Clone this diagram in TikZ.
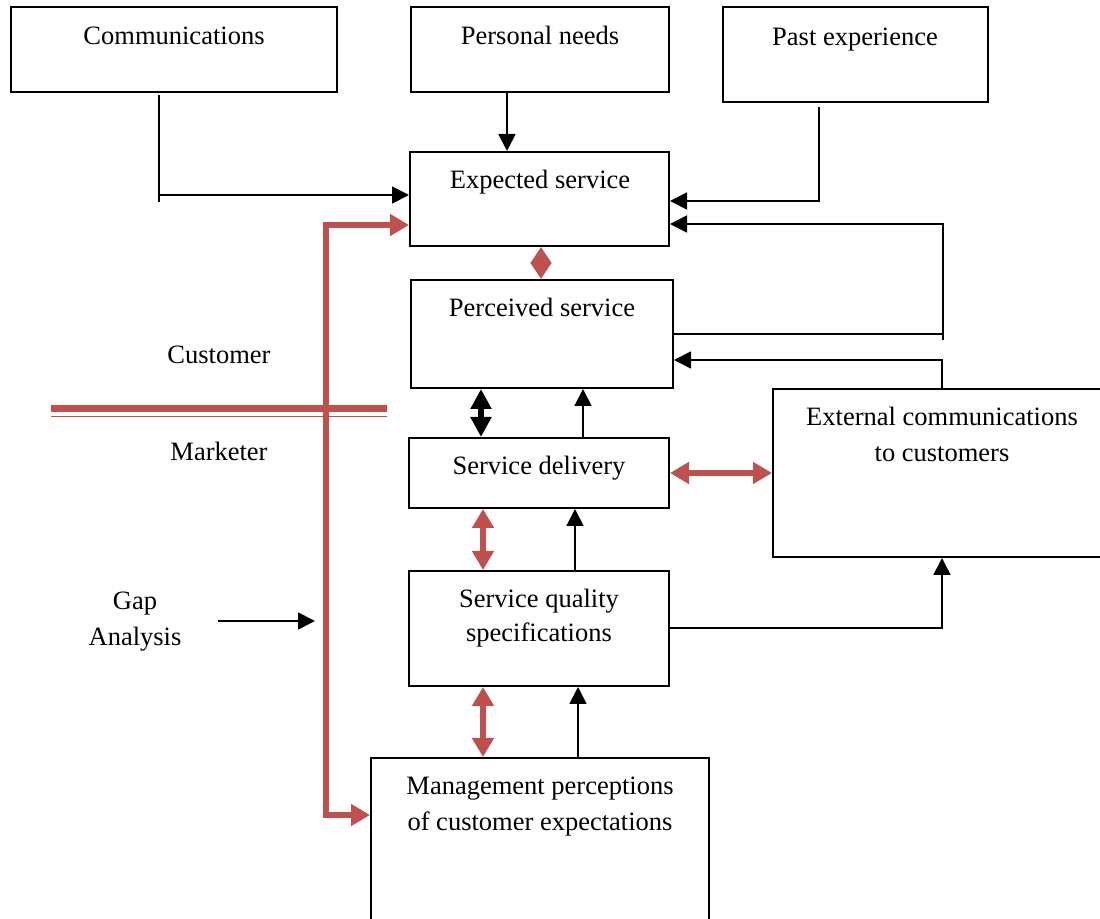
\documentclass[tikz,border=0pt]{standalone}
\usepackage{fontspec}
\setmainfont{Liberation Serif}
\usetikzlibrary{arrows.meta,fit}
\definecolor{gapred}{RGB}{192,80,77}
\tikzset{
  box/.style={draw, line width=1pt, inner sep=0pt},
  txt/.style={anchor=base, inner sep=0pt, font=\fontsize{13.25}{16}\selectfont},
  link/.style={line width=0.9pt},
  arr/.style={link, -{Triangle[length=8.5pt,width=8.5pt]}},
  gaparrow/.style={draw=gapred, line width=2.8pt,
    {Triangle[length=9.5pt,width=10.5pt]}-{Triangle[length=9.5pt,width=10.5pt]}},
  shortgap/.style={draw=gapred, line width=2.8pt,
    {Triangle[length=8pt,width=10pt]}-{Triangle[length=8pt,width=10pt]}},
  bigtwoway/.style={line width=3pt,
    {Triangle[length=10pt,width=10pt]}-{Triangle[length=10pt,width=10pt]}},
}
\begin{document}
\begin{tikzpicture}[x=0.5pt,y=-0.5pt]
\useasboundingbox (0,0) rectangle (1100,919);
\clip (0,0) rectangle (1100,919);

% boxes
\node[box, fit={(11,7) (337,92)}]    (comm)  {};
\node[box, fit={(411,7) (669,92)}]   (pn)    {};
\node[box, fit={(723,7) (988,102)}]  (past)  {};
\node[box, fit={(410,152) (669,246)}] (exp)  {};
\node[box, fit={(411,280) (673,388)}] (perc) {};
\node[box, fit={(409,438) (669,508)}] (deliv) {};
\node[box, fit={(409,571) (669,686)}] (sqs)  {};
\node[box, fit={(773,389) (1112,557)}] (ext) {};
\node[box, fit={(371,758) (709,935)}] (mgmt) {};

% box texts
\node[txt] (comm-t)  at (174,45)  {Communications};
\node[txt] (pn-t)    at (540,45)  {Personal needs};
\node[txt] (past-t)  at (855,46)  {Past experience};
\node[txt] (exp-t)   at (540,189) {Expected service};
\node[txt] (perc-t)  at (542,317) {Perceived service};
\node[txt] (deliv-t) at (539,475) {Service delivery};
\node[txt] (sqs-t1)  at (539,608) {Service quality};
\node[txt] (sqs-t2)  at (539,642) {specifications};
\node[txt] (ext-t1)  at (942,426) {External communications};
\node[txt] (ext-t2)  at (942,462) {to customers};
\node[txt] (mgmt-t1) at (540,795) {Management perceptions};
\node[txt] (mgmt-t2) at (540,831) {of customer expectations};

% side labels
\node[txt] (cust)  at (219,364) {Customer};
\node[txt] (mark)  at (219,461) {Marketer};
\node[txt] (gap1)  at (135,610) {Gap};
\node[txt] (gap2)  at (135,646) {Analysis};

% customer / marketer boundary
\draw[gapred, line width=3.5pt] (51,408.5) -- (387,408.5);
\draw[gapred, line width=0.9pt] (51,416.5) -- (387,416.5);

% lane coordinates
\coordinate (lcomm) at (159,195);
\coordinate (lpn)   at (507,0);
\coordinate (lpast) at (819,201);
\coordinate (lfb)   at (943,224);
\coordinate (lperc) at (943,334);
\coordinate (lext)  at (942,360);
\coordinate (lsqs)  at (942,628);
\coordinate (ldp)   at (583,0);
\coordinate (lsd)   at (575,0);
\coordinate (lms)   at (578,0);
\coordinate (lep)   at (541,0);
\coordinate (lpd)   at (481,0);
\coordinate (ldx)   at (0,473);
\coordinate (lds)   at (483,0);
\coordinate (lred)  at (326,225);
\coordinate (lredb) at (326,815);
\coordinate (gapfrom) at (218,621);
\coordinate (gapto)   at (315,621);

% inputs to expected service
\draw[link] ([yshift=-1pt]comm.south -| lcomm) -- ++(0,107);
\draw[arr] (lcomm) -- (exp.west |- lcomm);
\draw[arr] (pn.south -| lpn) -- (exp.north -| lpn);
\draw[arr] ([yshift=-2pt]past.south -| lpast) -- (lpast) -- (exp.east |- lpast);

% feedback loops on the right
\draw[link] (perc.east |- lperc) -- (lperc) -- ++(0,6);
\draw[arr] (lperc) -- (lfb) -- (exp.east |- lfb);
\draw[arr] (ext.north -| lext) -- (lext) -- (perc.east |- lext);
\draw[arr] (sqs.east |- lsqs) -- (lsqs) -- (ext.south -| lsqs);

% upward flows in the marketer column
\draw[arr] (deliv.north -| ldp) -- (perc.south -| ldp);
\draw[arr] (sqs.north -| lsd) -- (deliv.south -| lsd);
\draw[arr] (mgmt.north -| lms) -- (sqs.south -| lms);

% gaps
\draw[shortgap] (exp.south -| lep) -- (perc.north -| lep);
\draw[bigtwoway] (perc.south -| lpd) -- (deliv.north -| lpd);
\draw[gaparrow] (deliv.east |- ldx) -- (ext.west |- ldx);
\draw[gaparrow] (deliv.south -| lds) -- (sqs.north -| lds);
\draw[gaparrow] (sqs.south -| lds) -- (mgmt.north -| lds);
\draw[gaparrow] (exp.west |- lred) -- (lred) -- (lredb) -- (mgmt.west |- lredb);

% gap analysis pointer
\draw[arr] (gapfrom) -- (gapto);
\end{tikzpicture}
\end{document}
